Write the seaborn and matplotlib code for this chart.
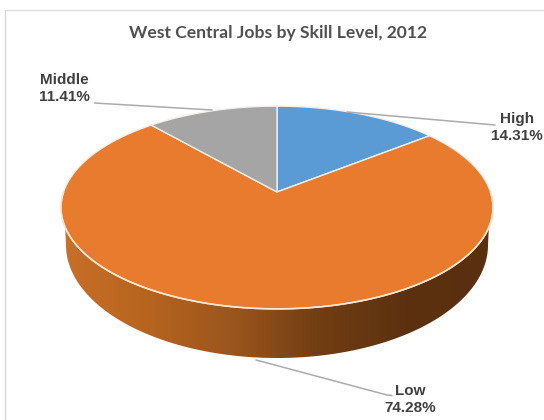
import numpy as np
import matplotlib
matplotlib.use("Agg")
import matplotlib.pyplot as plt
from matplotlib.patches import Polygon
import seaborn as sns

# Job shares by skill level
categories = ["High", "Low", "Middle"]
shares = [14.31, 74.28, 11.41]
title = "West Central Jobs by Skill Level, 2012"

slice_colors = ["#5B9BD5", "#E97B2E", "#A5A5A5"]
side_colors = ["#C96F28", "#B7641F", "#9A551D", "#713D13", "#5C3110", "#5A2F0F"]

sns.set_theme(style="white")
plt.rcParams["font.family"] = ["Liberation Sans", "DejaVu Sans"]

W, H = 544, 420
fig = plt.figure(figsize=(W / 100, H / 100), dpi=100)
ax = fig.add_axes([0, 0, 1, 1])
ax.set_xlim(0, W)
ax.set_ylim(H, 0)
ax.axis("off")

# Perspective view of a flat disc seen from above
CX, CY = 277.0, 192.0
A, B, K = 213.5, 99.0, 0.153


def project(theta):
    """Map clockwise-from-north angles on the disc to the canvas."""
    u, v = np.sin(theta), np.cos(theta)
    w = 1 + K * v
    return CX + A * u / w, CY - B * v / w


# Chart-area frame
ax.plot([5, 5, W], [H, 9.5, 9.5], color="#D9D9D9", lw=1.0, zorder=1)

# Cylinder side: the region between the front rim and the lower outline
front = np.linspace(np.pi * 0.5, np.pi * 1.5, 300)
top_x, top_y = project(front)
lower = np.linspace(np.pi * 0.5, np.pi * 1.5, 300)
bot_x = CX + 211 * np.sin(lower)
bot_y = 245 - 113 * np.cos(lower)
side = Polygon(np.r_[np.c_[top_x, top_y], np.c_[bot_x, bot_y][::-1]],
               closed=True, fc="none", ec="none", transform=ax.transData)
ax.add_patch(side)
ramp = np.array(sns.blend_palette(side_colors, 256))[None, :, :]
img = ax.imshow(ramp, extent=[60, 494, 370, 190], aspect="auto", zorder=2,
                interpolation="bilinear")
img.set_clip_path(side)
ax.set_xlim(0, W)
ax.set_ylim(H, 0)

# Top face, one wedge per category, clockwise from north
edges = np.r_[0, np.cumsum(shares)] / np.sum(shares) * 2 * np.pi
for start, stop, color in zip(edges[:-1], edges[1:], slice_colors):
    t = np.linspace(start, stop, 200)
    x, y = project(t)
    ax.add_patch(Polygon(np.c_[np.r_[CX, x], np.r_[CY, y]], closed=True,
                         fc=color, ec="#F4EFEA", lw=1.0, joinstyle="round", zorder=3))

# Pale highlight along the front rim
ax.plot(top_x, top_y, color="#FBE6CF", lw=1.2, zorder=4)

# Leader lines
leaders = [([495, 347], [125, 112]),
           ([94.5, 212], [103, 110]),
           ([392, 387, 256], [395.5, 395, 360])]
for lx, ly in leaders:
    ax.plot(lx, ly, color="#ABABAB", lw=1.1, zorder=5)

# Title and slice labels
ax.text(278, 33, title, ha="center", va="center", fontsize=12.6, fontweight="bold",
        family=["Lato", "DejaVu Sans"], color="#505050", zorder=6)
label_xy = [(517, 127.5), (410, 399.5), (64, 88.5)]
for name, share, (tx, ty) in zip(categories, shares, label_xy):
    ax.text(tx, ty, f"{name}\n{share:.2f}%", ha="center", va="center", fontsize=11.0,
            fontweight="bold", color="#404040", linespacing=1.24, zorder=6)

fig.savefig("out.png", dpi=100)
